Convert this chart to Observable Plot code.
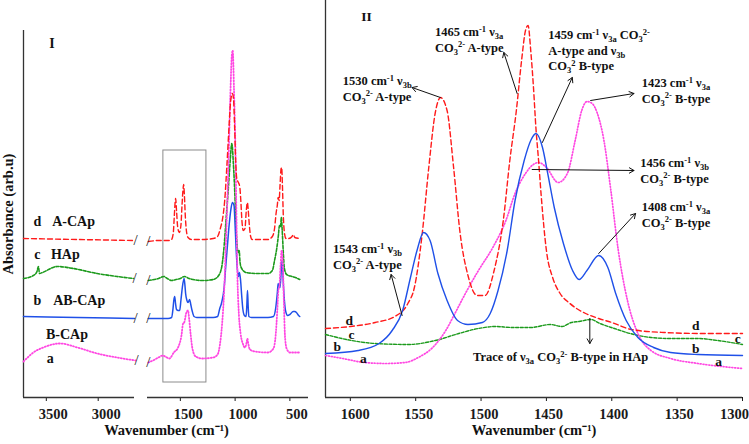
<!DOCTYPE html>
<html><head><meta charset="utf-8">
<script src="https://cdn.jsdelivr.net/npm/d3@7"></script>
<script src="https://cdn.jsdelivr.net/npm/@observablehq/plot@0.6"></script>
<style>
body{margin:0;background:#fff;}
#chart{position:relative;width:749px;height:444px;overflow:hidden;background:#fff;}
#chart svg{position:absolute;top:0;}
</style></head><body><div id="chart"></div>
<script>
// ---------- Panel I data: [wavenumber (cm-1), absorbance (arb.u)] ----------
const aCAp_I = [[3720,1.59],[3200,1.58],[2650,1.57],
[1793,1.56],[1700,1.57],[1600,1.57],[1580,1.58],[1565,1.64],[1555,1.82],[1548,1.95],[1543,1.99],[1535,1.87],[1525,1.71],[1510,1.65],[1495,1.72],[1485,1.92],[1475,2.09],[1470,2.13],[1463,2.02],[1455,1.82],[1445,1.67],[1430,1.60],[1400,1.58],[1300,1.58],[1200,1.59],[1160,1.61],[1135,1.69],[1110,1.82],[1095,1.97],[1075,2.32],[1055,2.72],[1040,2.97],[1025,3.04],[1015,2.99],[1005,2.72],[995,2.37],[985,2.19],[970,2.15],[958,2.11],[948,1.97],[938,1.77],[925,1.67],[910,1.69],[898,1.87],[888,1.95],[880,1.87],[870,1.72],[858,1.61],[845,1.58],[700,1.58],[660,1.61],[640,1.69],[625,1.85],[615,1.92],[607,2.00],[598,1.97],[590,2.12],[580,2.29],[575,2.30],[568,2.12],[560,1.82],[550,1.65],[535,1.59],[510,1.59],[480,1.61],[470,1.63],[455,1.60],[410,1.59]];
const hAp_I = [[3720,1.19],[3625,1.22],[3590,1.26],[3577,1.31],[3565,1.24],[3538,1.25],[3394,1.31],[3240,1.29],[3010,1.24],[2817,1.21],[2660,1.19],
[1793,1.17],[1700,1.19],[1650,1.21],[1620,1.19],[1580,1.17],[1540,1.18],[1500,1.19],[1463,1.21],[1420,1.19],[1300,1.17],[1200,1.18],[1150,1.22],[1120,1.32],[1100,1.52],[1080,1.82],[1060,2.12],[1045,2.37],[1030,2.54],[1015,2.32],[1000,1.97],[990,1.67],[982,1.52],[972,1.45],[963,1.47],[955,1.35],[940,1.29],[900,1.25],[800,1.24],[700,1.24],[660,1.27],[640,1.37],[620,1.49],[605,1.62],[595,1.72],[585,1.71],[578,1.80],[570,1.67],[560,1.45],[550,1.29],[530,1.23],[480,1.21],[450,1.20],[410,1.18]];
const abCAp_I = [[3720,0.81],[3200,0.80],[2650,0.79],
[1793,0.79],[1700,0.79],[1612,0.79],[1580,0.80],[1567,0.89],[1560,0.97],[1552,1.01],[1545,0.95],[1535,0.88],[1520,0.87],[1506,0.87],[1495,0.97],[1482,1.10],[1466,1.19],[1458,1.12],[1452,1.04],[1440,0.97],[1430,0.95],[1415,0.98],[1405,0.93],[1393,0.87],[1375,0.81],[1350,0.80],[1200,0.80],[1160,0.81],[1140,0.89],[1125,0.94],[1100,1.10],[1085,1.32],[1070,1.52],[1055,1.72],[1040,1.87],[1025,1.95],[1010,1.92],[1000,1.72],[990,1.47],[980,1.29],[970,1.21],[960,1.25],[950,1.17],[940,1.02],[930,0.89],[915,0.82],[900,0.81],[893,0.92],[887,1.07],[881,0.92],[875,0.81],[850,0.80],[700,0.80],[650,0.81],[630,0.89],[615,1.04],[607,1.14],[600,1.11],[590,1.10],[580,1.25],[572,1.37],[565,1.27],[558,1.10],[550,0.97],[540,0.87],[520,0.82],[500,0.83],[470,0.86],[455,0.86],[440,0.85],[420,0.82],[410,0.81]];
const bCAp_I = [[3720,0.36],[3680,0.40],[3625,0.45],[3530,0.50],[3370,0.54],[3200,0.50],[3010,0.44],[2820,0.40],[2640,0.37],
[1793,0.35],[1750,0.37],[1700,0.40],[1660,0.42],[1640,0.41],[1600,0.39],[1560,0.45],[1521,0.50],[1490,0.62],[1475,0.74],[1465,0.75],[1445,0.85],[1430,0.87],[1420,0.79],[1405,0.62],[1390,0.49],[1360,0.41],[1300,0.39],[1200,0.40],[1160,0.43],[1140,0.52],[1120,0.72],[1100,1.07],[1080,1.67],[1060,2.37],[1045,2.97],[1030,3.42],[1022,3.47],[1010,3.07],[997,2.47],[990,1.97],[980,1.27],[965,0.82],[950,0.64],[930,0.54],[910,0.50],[895,0.55],[888,0.59],[880,0.54],[865,0.48],[820,0.46],[700,0.45],[650,0.49],[630,0.62],[615,0.87],[605,1.07],[595,1.12],[585,1.32],[575,1.47],[565,1.35],[555,0.97],[545,0.62],[530,0.49],[500,0.45],[410,0.45]];

// ---------- Panel II data ----------
const aCAp_II = [[1619,0.69],[1600,0.71],[1581,0.75],[1566,0.81],[1556,0.94],[1551,1.10],[1545,1.64],[1540,2.30],[1535,2.85],[1531,3.00],[1526,2.87],[1521,2.30],[1516,1.64],[1510,1.22],[1503,1.02],[1497,1.02],[1490,1.27],[1483,1.77],[1478,2.37],[1473,2.87],[1469,3.37],[1466,3.67],[1464,3.72],[1462,3.47],[1460,3.12],[1458,2.69],[1456,2.37],[1454,2.02],[1450,1.47],[1445,1.19],[1440,1.05],[1432,0.94],[1420,0.84],[1410,0.79],[1400,0.75],[1385,0.68],[1360,0.65],[1330,0.64],[1300,0.64]];
const hAp_II = [[1619,0.63],[1599,0.57],[1581,0.54],[1556,0.53],[1535,0.57],[1517,0.64],[1502,0.69],[1489,0.71],[1476,0.70],[1462,0.70],[1447,0.73],[1438,0.71],[1431,0.75],[1425,0.76],[1416,0.78],[1409,0.74],[1398,0.69],[1386,0.64],[1370,0.60],[1355,0.59],[1334,0.59],[1319,0.57],[1300,0.53]];
const abCAp_II = [[1619,0.44],[1594,0.47],[1578,0.54],[1568,0.67],[1560,0.87],[1554,1.20],[1549,1.47],[1544,1.65],[1539,1.57],[1533,1.24],[1526,0.97],[1518,0.77],[1510,0.73],[1499,0.75],[1493,0.84],[1487,1.07],[1480,1.47],[1474,1.97],[1467,2.37],[1462,2.57],[1458,2.64],[1453,2.50],[1449,2.24],[1444,1.90],[1437,1.54],[1430,1.27],[1425,1.18],[1419,1.27],[1410,1.42],[1403,1.30],[1397,1.04],[1389,0.77],[1380,0.60],[1368,0.50],[1355,0.45],[1334,0.43],[1300,0.42]];
const bCAp_II = [[1619,0.42],[1606,0.39],[1589,0.35],[1573,0.34],[1558,0.35],[1548,0.40],[1537,0.50],[1527,0.67],[1520,0.84],[1512,1.04],[1502,1.27],[1491,1.50],[1481,1.77],[1474,2.04],[1466,2.24],[1460,2.33],[1456,2.35],[1450,2.30],[1441,2.15],[1434,2.24],[1428,2.57],[1423,2.87],[1419,2.96],[1415,2.94],[1411,2.84],[1406,2.57],[1401,2.10],[1395,1.47],[1388,0.97],[1380,0.64],[1370,0.47],[1355,0.39],[1334,0.34],[1300,0.29]];

// ---------- axes / tick labels ----------
const domainIL = [3720, 2650], domainIR = [1800, 330];
const ticksIL = [3500, 3000], ticksIR = [1500, 1000, 500];
const ticksII = [1600, 1550, 1500, 1450, 1400, 1350, 1300];
const domainII = [1619, 1300];
const boxW = [1655, 1262], boxA = [0.15, 2.47];

// ---------- labels ----------
const lettersI = [
  {w: 3586, a: 1.76, t: "d"}, {w: 3237, a: 1.76, t: "A-CAp"},
  {w: 3586, a: 1.43, t: "c"}, {w: 3317, a: 1.43, t: "HAp"},
  {w: 3586, a: 0.97, t: "b"}, {w: 3183, a: 0.97, t: "AB-CAp"},
  {w: 3301, a: 0.63, t: "B-CAp"},
  {w: 3461, a: 0.39, t: "a"},
  {w: 3445, a: 3.54, t: "I"}
];
const lettersII = [
  {w: 1600.8, a: 0.765, t: "d"}, {w: 1599.2, a: 0.63, t: "c"}, {w: 1610, a: 0.51, t: "b"}, {w: 1590, a: 0.39, t: "a"},
  {w: 1335.8, a: 0.72, t: "d"}, {w: 1303.7, a: 0.59, t: "c"}, {w: 1335.8, a: 0.49, t: "b"}, {w: 1318.2, a: 0.355, t: "a"},
  {w: 1587.7, a: 3.81, t: "II"}
];
const notesII = [
  {w: 1605.4, a: 3.16, lines: ["1530 cm^{-1} ν_{3b}", "CO_{3}^{2-} A-type"]},
  {w: 1534.9, a: 3.65, lines: ["1465 cm^{-1} ν_{3a}", "CO_{3}^{2-} A-type"]},
  {w: 1448.2, a: 3.62, lines: ["1459 cm^{-1} ν_{3a} CO_{3}^{2-}", "A-type and ν_{3b}", "CO_{3}^{2} B-type"]},
  {w: 1376.7, a: 3.14, lines: ["1423 cm^{-1} ν_{3a}", "CO_{3}^{2-} B-type"]},
  {w: 1377.9, a: 2.34, lines: ["1456 cm^{-1} ν_{3b}", "CO_{3}^{2-} B-type"]},
  {w: 1376.7, a: 1.90, lines: ["1408 cm^{-1} ν_{3a}", "CO_{3}^{2-} B-type"]},
  {w: 1612.8, a: 1.48, lines: ["1543 cm^{-1} ν_{3b}", "CO_{3}^{2-} A-type"]},
  {w: 1505.8, a: 0.40, lines: ["Trace of ν_{3a} CO_{3}^{2-} B-type in HAp"]}
];
const arrowsII = [
  {w1: 1531.1, a1: 3.00, w2: 1552.8, a2: 3.10},
  {w1: 1472.4, a1: 3.04, w2: 1482.6, a2: 3.45},
  {w1: 1453.1, a1: 2.55, w2: 1430.2, a2: 3.20},
  {w1: 1416.2, a1: 2.97, w2: 1383.0, a2: 3.04},
  {w1: 1460.9, a1: 2.28, w2: 1383.0, a2: 2.27},
  {w1: 1410.0, a1: 1.44, w2: 1381.8, a2: 1.84},
  {w1: 1560.4, a1: 0.82, w2: 1568.8, a2: 1.23},
  {w1: 1416.8, a1: 0.79, w2: 1416.8, a2: 0.54}
];

// ---------- helpers ----------
const serif = '"Liberation Serif", "Times New Roman", serif';
const rows = (arr) => arr.map(([w, a]) => ({w, a}));
const leftPart = (arr) => rows(arr).filter(d => d.w > 2200);
const rightPart = (arr) => rows(arr).filter(d => d.w <= 2200);
const styles = {
  d: {stroke: "#ff1a1a", strokeWidth: 1.4, strokeDasharray: "5,3"},
  c: {stroke: "#1c9a1c", strokeWidth: 1.6, strokeDasharray: "3,1.6"},
  b: {stroke: "#1f50e8", strokeWidth: 1.5},
  a: {stroke: "#ff48e2", strokeWidth: 1.8, strokeDasharray: "1,1.9"}
};
const seriesI = [["c", hAp_I], ["b", abCAp_I], ["a", bCAp_I], ["d", aCAp_I]];
const seriesII = [["c", hAp_II], ["a", bCAp_II], ["d", aCAp_II], ["b", abCAp_II]];
const fmt = d => String(d);
const baseStyle = {fontFamily: serif, fontWeight: "bold", fontSize: "14.5px", color: "#1a1a1a", background: "transparent", overflow: "visible"};
const axisStroke = {stroke: "#333", strokeWidth: 1.3};
const yI = {domain: [0, 3.67], axis: null};
const xAxisOpts = {tickFormat: fmt, tickSize: 4, tickPadding: 7, label: null};
const xLabel = "Wavenumber (cm⁻¹)";

function addRich(plot, items, size, lh) {
  const sx = plot.scale("x"), sy = plot.scale("y");
  const g = d3.select(plot).append("g")
    .attr("font-family", serif).attr("font-weight", "bold").attr("font-size", size).attr("fill", "#111");
  for (const it of items) {
    const X = sx.apply(it.w), Y = sy.apply(it.a);
    it.lines.forEach((line, i) => {
      const t = g.append("text").attr("x", X).attr("y", Y + i * lh + 0.35 * size)
        .attr("text-anchor", it.anchor || "start");
      let shift = 0;
      for (const part of line.split(/(\^\{[^}]*\}|_\{[^}]*\})/)) {
        if (!part) continue;
        let target = 0, txt = part, fs = size;
        if (part.startsWith("^{")) { target = -0.38 * size; txt = part.slice(2, -1); fs = 0.68 * size; }
        else if (part.startsWith("_{")) { target = 0.24 * size; txt = part.slice(2, -1); fs = 0.68 * size; }
        t.append("tspan").attr("dy", target - shift).attr("font-size", fs).text(txt);
        shift = target;
      }
    });
  }
}
function shiftTicks(plot, shifts) {
  d3.select(plot).selectAll("text").each(function () {
    const s = shifts[this.textContent];
    if (s !== undefined) d3.select(this).attr("dx", s);
  });
}

// ---------- Panel I, left part (3720–2650) ----------
const panel1L = Plot.plot({
  width: 140, height: 444,
  marginLeft: 23, marginRight: 6, marginTop: 30, marginBottom: 47,
  style: baseStyle,
  x: {domain: domainIL, ticks: ticksIL, ...xAxisOpts},
  y: yI,
  marks: [
    Plot.ruleY([0], {x1: domainIL[0], x2: domainIL[1], ...axisStroke}),
    Plot.ruleX([domainIL[0]], {y1: 0, y2: 3.67, ...axisStroke}),
    ...seriesI.map(([k, arr]) => Plot.line(leftPart(arr), {x: "w", y: "a", curve: "monotone-x", ...styles[k]})),
    Plot.text(seriesI.map(([k, arr]) => leftPart(arr).at(-1)), {x: "w", y: "a", text: () => "/", fontSize: 15, fontWeight: "normal", fill: "#222", dx: 1}),
    Plot.text(lettersI, {x: "w", y: "a", text: "t", fontSize: 14, fontWeight: "bold", fill: "#111"}),
    Plot.text(["Absorbance (arb.u)"], {text: d => d, frameAnchor: "left", textAnchor: "middle", dx: -15, rotate: -90, fontSize: 14.5, fontWeight: "bold", fill: "#111"})
  ]
});
shiftTicks(panel1L, {"3500": 7, "3000": 8});
panel1L.style.left = "0px";

// ---------- Panel I, right part (1800–330) ----------
const panel1R = Plot.plot({
  width: 180, height: 444,
  marginLeft: 7, marginRight: 12, marginTop: 30, marginBottom: 47,
  style: baseStyle,
  x: {domain: domainIR, ticks: ticksIR, ...xAxisOpts},
  y: yI,
  marks: [
    Plot.ruleY([0], {x1: domainIR[0], x2: domainIR[1], ...axisStroke}),
    Plot.rect([0], {x1: boxW[0], x2: boxW[1], y1: boxA[0], y2: boxA[1], fill: "none", stroke: "#8c8c8c", strokeWidth: 1}),
    ...seriesI.map(([k, arr]) => Plot.line(rightPart(arr), {x: "w", y: "a", curve: "monotone-x", ...styles[k]})),
    Plot.text(seriesI.map(([k, arr]) => rightPart(arr)[0]), {x: "w", y: "a", text: () => "/", fontSize: 15, fontWeight: "normal", fill: "#222"}),
    Plot.text([xLabel], {text: d => d, frameAnchor: "bottom", dx: -61.5, dy: 37, fontSize: 14.5, fontWeight: "bold", fill: "#111"})
  ]
});
shiftTicks(panel1R, {"1500": 8, "1000": 8, "500": 7});
panel1R.style.left = "140px";

// ---------- Panel II ----------
const panel2 = Plot.plot({
  width: 429, height: 444,
  marginLeft: 5, marginRight: 7, marginTop: 0, marginBottom: 47,
  style: baseStyle,
  x: {domain: domainII, ticks: ticksII, ...xAxisOpts},
  y: {domain: [0, 3.97], axis: null},
  marks: [
    Plot.ruleY([0], {x1: domainII[0], x2: domainII[1], ...axisStroke}),
    Plot.ruleX([domainII[0]], {y1: 0, y2: 3.97, ...axisStroke}),
    ...seriesII.map(([k, arr]) => Plot.line(rows(arr), {x: "w", y: "a", curve: "monotone-x", ...styles[k], strokeWidth: k === "a" ? 1.7 : 1.4})),
    Plot.arrow(arrowsII, {x1: "w1", y1: "a1", x2: "w2", y2: "a2", stroke: "#111", strokeWidth: 1, headLength: 8}),
    Plot.text(lettersII, {x: "w", y: "a", text: "t", fontSize: 13.5, fontWeight: "bold", fill: "#111"}),
    Plot.text([xLabel], {text: d => d, frameAnchor: "bottom", dy: 37, fontSize: 14.5, fontWeight: "bold", fill: "#111"})
  ]
});
shiftTicks(panel2, {"1600": 5, "1550": 3, "1500": 3, "1450": 2, "1400": 2, "1350": 2, "1300": -8});
panel2.style.left = "320px";
addRich(panel2, notesII, 12.5, 15.5);

const root = document.getElementById("chart");
root.appendChild(panel1L);
root.appendChild(panel1R);
root.appendChild(panel2);
</script></body></html>
